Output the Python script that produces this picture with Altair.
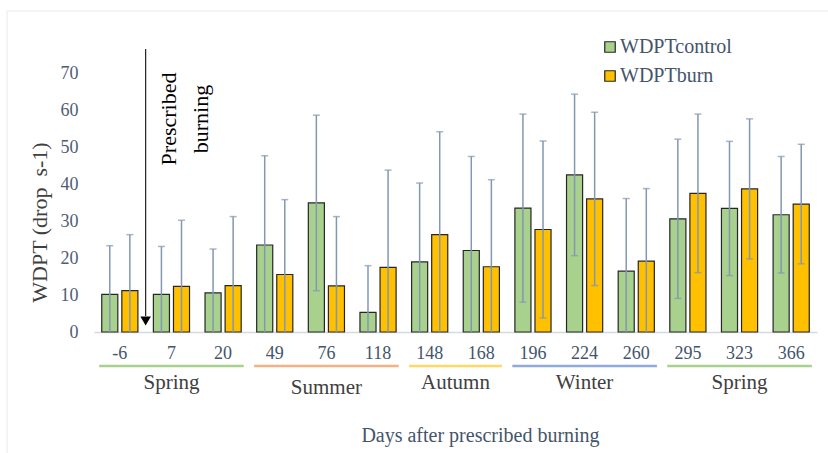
import altair as alt
import pandas as pd

# ---------------- data ----------------
cats = ["-6", "7", "20", "49", "76", "118", "148", "168", "196", "224", "260", "295", "323", "366"]
control_mean = [10.2, 10.2, 10.6, 23.6, 35.0, 5.3, 19.0, 22.1, 33.6, 42.6, 16.5, 30.7, 33.5, 31.8]
control_sd = [13.2, 13.0, 11.9, 24.2, 23.8, 12.7, 21.4, 25.5, 25.5, 21.9, 19.7, 21.6, 18.2, 15.8]
burn_mean = [11.2, 12.4, 12.6, 15.6, 12.5, 17.5, 26.4, 17.7, 27.8, 36.1, 19.2, 37.6, 38.8, 34.7]
burn_sd = [15.2, 17.9, 18.7, 20.3, 18.8, 26.4, 27.9, 23.6, 24.0, 23.5, 19.7, 21.5, 19.0, 16.2]
series_names = ["WDPTcontrol", "WDPTburn"]
season_names = ["Spring", "Summer", "Autumn", "Winter", "Spring"]
season_first = ["-6", "49", "148", "196", "295"]
season_last = ["20", "118", "168", "260", "366"]
y_ticks = [0, 10, 20, 30, 40, 50, 60, 70]
burn_label = ["Prescribed", "burning"]
burn_after = "7"  # burning happened just before this sampling day
x_title = "Days after prescribed burning"
y_title = "WDPT (drop\u00a0 s-1)"

# ---------------- styles ----------------
W, H = 723, 295
SERIF = "Liberation Serif"
bar_colors = ["#A9D18E", "#FFC000"]
season_colors = ["#A9D18E", "#F4B183", "#FFD966", "#8FAADC", "#A9D18E"]
season_dy = [0, 5, 0, 0, 0]
ERR = "#8497B0"
TXT = "#44546A"

rows = []
for name, means, sds in ((series_names[0], control_mean, control_sd),
                         (series_names[1], burn_mean, burn_sd)):
    for c, m, s in zip(cats, means, sds):
        rows.append({"day": c, "series": name, "mean": m,
                     "upper": m + s, "lower": max(0.0, m - s),
                     "has_lower": (m - s) > 0})
df = pd.DataFrame(rows)

inset = 0.1
seasons = pd.DataFrame({
    "sid": list(range(len(season_names))),
    "name": season_names,
    "start": [cats.index(a) + inset for a in season_first],
    "end": [cats.index(b) + 1 - inset for b in season_last],
    "ty": [H + 51 + d for d in season_dy],
})
seasons["mid"] = (seasons["start"] + seasons["end"]) / 2

event = pd.DataFrame({"pos": [cats.index(burn_after)], "label": [burn_label]})

x_axis = alt.Axis(title=x_title, labelFont=SERIF, labelFontSize=18, labelColor=TXT,
                  labelPadding=12, labelAngle=0, ticks=False, domainColor="#D3D9E2",
                  domainWidth=1.3, grid=False, titleFont=SERIF, titleFontSize=20,
                  titleFontWeight="normal", titleColor=TXT, titleX=386, titleY=103,
                  titleBaseline="middle", titleAlign="center")
y_axis = alt.Axis(title=y_title, values=y_ticks, labelFont=SERIF, labelFontSize=18,
                  labelColor="#4F5D73", labelPadding=16, ticks=False, domain=False,
                  grid=False, titleFont=SERIF, titleFontSize=22, titleFontWeight="normal",
                  titleColor="#404040", titleAngle=270, titleX=-55, titleY=185,
                  titleAlign="center", titleBaseline="middle")

x_band = alt.X("day:N", sort=cats, axis=x_axis,
               scale=alt.Scale(paddingInner=0.3, paddingOuter=0.15))
x_off = alt.XOffset("series:N", sort=series_names,
                    scale=alt.Scale(domain=series_names, paddingInner=0.2, paddingOuter=0))
y_scale = alt.Scale(domain=[0, 80], nice=False)

base = alt.Chart(df)
bars = base.mark_bar(stroke="#262626", strokeWidth=1.2).encode(
    x=x_band, xOffset=x_off,
    y=alt.Y("mean:Q", scale=y_scale, axis=y_axis),
    color=alt.Color("series:N",
                    scale=alt.Scale(domain=series_names, range=bar_colors),
                    legend=alt.Legend(title=None, orient="none", legendX=506, legendY=0,
                                      direction="vertical", symbolType="square",
                                      symbolSize=110, symbolStrokeColor="#262626",
                                      symbolStrokeWidth=1.2, labelFont=SERIF,
                                      labelFontSize=20, labelColor=TXT, rowPadding=9,
                                      labelOffset=0)),
)
err = base.mark_rule(color=ERR, strokeWidth=1.5).encode(
    x=x_band, xOffset=x_off,
    y=alt.Y("lower:Q", scale=y_scale, axis=y_axis), y2="upper:Q")
cap_up = base.mark_tick(color=ERR, thickness=1.5, size=7).encode(
    x=x_band, xOffset=x_off, y=alt.Y("upper:Q", scale=y_scale, axis=y_axis))
cap_lo = base.mark_tick(color=ERR, thickness=1.5, size=7).transform_filter(
    alt.datum.has_lower).encode(
    x=x_band, xOffset=x_off, y=alt.Y("lower:Q", scale=y_scale, axis=y_axis))

band_layer = alt.layer(bars, err, cap_up, cap_lo)

idx_scale = alt.Scale(domain=[0, len(cats)], nice=False, zero=False)
season_rules = alt.Chart(seasons).mark_rule(strokeWidth=2.5).encode(
    x=alt.X("start:Q", scale=idx_scale, axis=None), x2="end:Q",
    y=alt.value(H + 34),
    color=alt.Color("sid:N", scale=alt.Scale(range=season_colors), legend=None))
season_text = alt.Chart(seasons).mark_text(font=SERIF, fontSize=21, color="#404040",
                                            baseline="middle").encode(
    x=alt.X("mid:Q", scale=idx_scale, axis=None),
    y=alt.Y("ty:Q", scale=None), text="name:N")
arrow_line = alt.Chart(event).mark_rule(color="#222222", strokeWidth=1.2).encode(
    x=alt.X("pos:Q", scale=idx_scale, axis=None), y=alt.value(12), y2=alt.value(279))
arrow_head = alt.Chart(event).mark_point(shape="triangle-down", filled=True, opacity=1,
                                         color="black", size=110).encode(
    x=alt.X("pos:Q", scale=idx_scale, axis=None), y=alt.value(284))
burn_text = alt.Chart(event).mark_text(font=SERIF, fontSize=22, color="black", angle=270,
                                       align="center", baseline="middle", lineHeight=32,
                                       dy=23).encode(
    x=alt.X("pos:Q", scale=idx_scale, axis=None), y=alt.value(82), text="label")
frame = alt.Chart(pd.DataFrame({"k": [0]}))
frame_top = frame.mark_rule(color="#E6EAF0", strokeWidth=1).encode(
    x=alt.value(-87), x2=alt.value(W + 11), y=alt.value(-26))
frame_left = frame.mark_rule(color="#E6EAF0", strokeWidth=1).encode(
    x=alt.value(-87), y=alt.value(-26), y2=alt.value(H + 121))

overlay = alt.layer(season_rules, season_text, arrow_line, arrow_head, burn_text,
                    frame_top, frame_left)

chart = alt.layer(band_layer, overlay).resolve_scale(
    x="independent", color="independent").properties(
    width=W, height=H,
    padding={"left": 94, "top": 37, "right": 11, "bottom": 121},
    autosize=alt.AutoSizeParams(type="none"),
    background="white",
).configure(font=SERIF).configure_view(stroke=None)

chart.save("out.html", embed_options={"renderer": "svg", "actions": False})
